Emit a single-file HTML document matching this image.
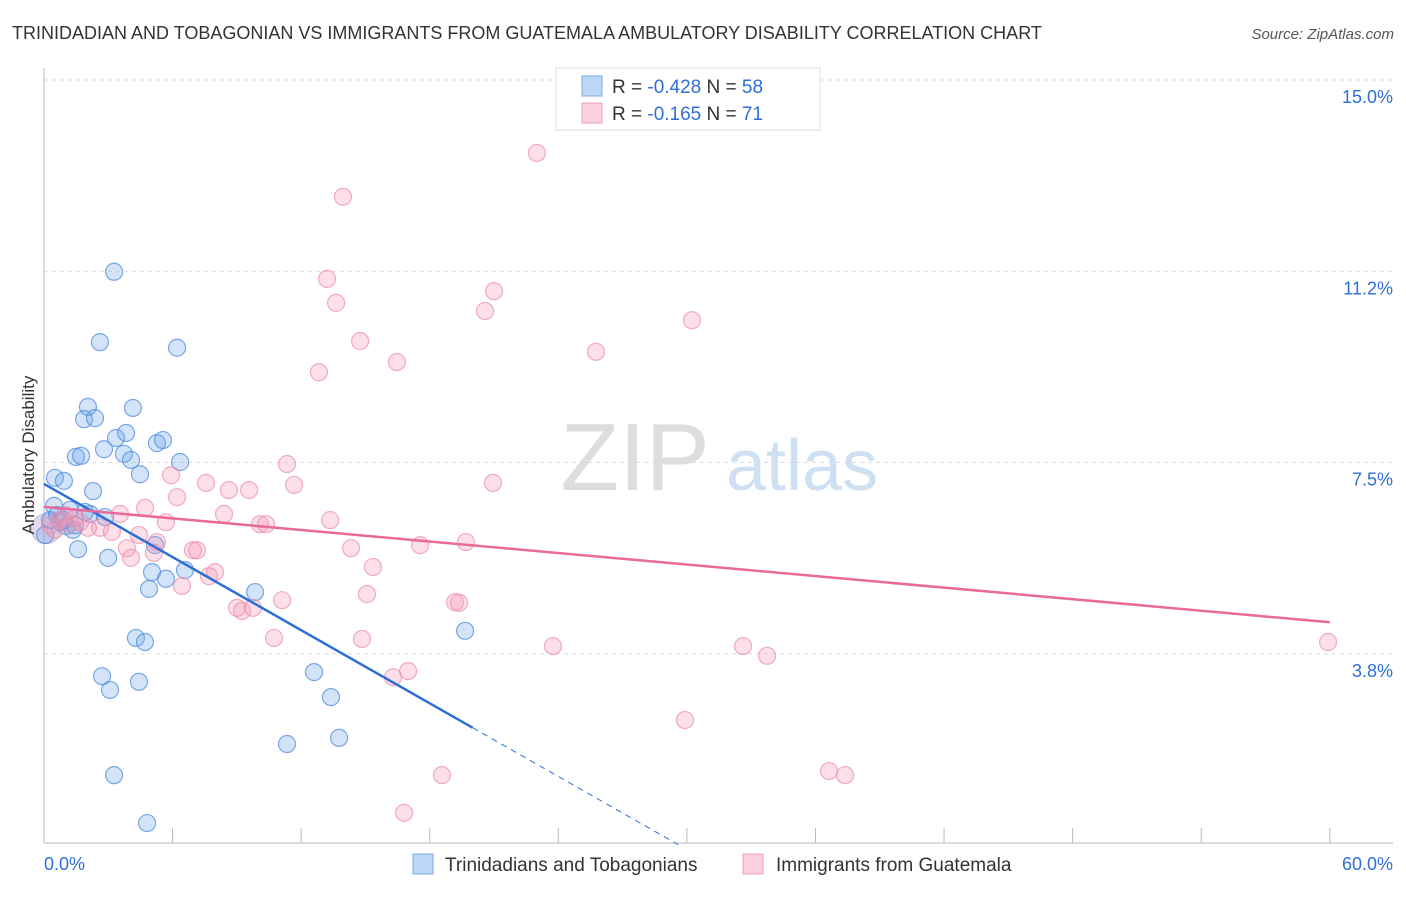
<!DOCTYPE html>
<html><head><meta charset="utf-8"><style>
body{margin:0;background:#fff;font-family:"Liberation Sans",sans-serif;}
svg text{font-family:"Liberation Sans",sans-serif;}
</style></head><body>
<svg id="chart" width="1406" height="892" xmlns="http://www.w3.org/2000/svg">
<text x="12" y="39" font-size="18" fill="#333">TRINIDADIAN AND TOBAGONIAN VS IMMIGRANTS FROM GUATEMALA AMBULATORY DISABILITY CORRELATION CHART</text>
<text x="1394" y="39" font-size="15" fill="#555" font-style="italic" text-anchor="end">Source: ZipAtlas.com</text>
<g>
<text x="635" y="490" font-size="96" fill="#ddd" font-family="Liberation Serif" text-anchor="middle">ZIP</text>
<text x="802" y="490" font-size="72" fill="#cfe0f3" text-anchor="middle">atlas</text>
</g>
<g id="grid"></g>
<g id="axes"></g>
<g id="points"></g>
<g id="trends"></g>
<text transform="translate(34,455) rotate(-90)" font-size="17" fill="#333" text-anchor="middle">Ambulatory Disability</text>
<g>
<rect x="556" y="68" width="264" height="62" fill="#fff" stroke="#ddd"/>
<rect x="582" y="76" width="20" height="20" fill="#bcd6f5" stroke="#7aaae6"/>
<rect x="582" y="103" width="20" height="20" fill="#fbd0dd" stroke="#eea0b8"/>
<text x="612" y="93" font-size="19" fill="#333">R = <tspan fill="#2e6fd6">-0.428</tspan>   N = <tspan fill="#2e6fd6">58</tspan></text>
<text x="612" y="120" font-size="19" fill="#333">R =  <tspan fill="#2e6fd6">-0.165</tspan>   N =  <tspan fill="#2e6fd6">71</tspan></text>
</g>
<g>
<rect x="413" y="854" width="20" height="20" fill="#bcd6f5" stroke="#7aaae6"/>
<text x="445" y="871" font-size="19" fill="#333">Trinidadians and Tobagonians</text>
<rect x="743" y="854" width="20" height="20" fill="#fbd0dd" stroke="#eea0b8"/>
<text x="776" y="871" font-size="19" fill="#333">Immigrants from Guatemala</text>
</g>
</svg>
<script>
const yTicks=[3.75,7.5,11.25,15];
const yTickLabels=["3.8%","7.5%","11.2%","15.0%"];
const xTickLabels=["0.0%","60.0%"];
const blueX=[3.27,2.61,6.21,2.05,4.15,1.87,2.38,3.36,3.83,5.27,5.55,2.80,1.49,1.73,3.73,4.06,6.35,4.48,0.51,0.93,2.29,0.47,1.21,2.15,2.85,0.28,0.75,1.03,1.35,0.05,1.45,1.59,2.99,5.18,5.04,6.58,5.69,4.90,9.85,4.29,4.71,19.65,2.71,12.60,3.08,4.43,13.39,11.34,13.77,3.27,4.81,0.61,1.91,0.93];
const blueY=[11.24,9.86,9.75,8.59,8.57,8.35,8.37,7.98,8.08,7.88,7.94,7.76,7.61,7.63,7.67,7.55,7.51,7.27,7.20,7.14,6.94,6.65,6.57,6.49,6.43,6.37,6.33,6.25,6.18,6.08,6.27,5.80,5.63,5.88,5.35,5.39,5.22,5.02,4.96,4.06,3.98,4.20,3.31,3.39,3.04,3.20,2.90,1.98,2.10,1.37,0.43,6.47,6.53,6.37];
const pinkX=[23.0,13.95,13.21,13.63,21.0,20.58,30.24,14.75,25.76,16.47,12.83,11.34,5.93,7.56,11.67,20.95,8.63,9.57,6.21,4.71,8.40,3.55,13.35,5.69,10.08,10.36,4.43,3.17,2.05,2.61,17.55,14.33,19.69,3.87,5.27,5.13,6.95,7.14,4.06,15.35,7.98,7.70,6.44,15.07,11.11,19.18,19.37,9.01,9.24,9.75,10.73,14.84,23.75,32.62,33.74,16.99,16.29,59.92,29.91,18.57,36.63,37.38,16.80,0.75,1.21,1.45,0.28,0.98,0.51,1.68];
const pinkY=[13.57,12.71,11.10,10.63,10.86,10.47,10.29,9.88,9.67,9.47,9.27,7.47,7.25,7.10,7.06,7.10,6.96,6.96,6.82,6.61,6.49,6.49,6.37,6.33,6.29,6.29,6.08,6.14,6.22,6.22,5.88,5.82,5.94,5.82,5.94,5.73,5.78,5.78,5.63,5.45,5.35,5.27,5.08,4.92,4.80,4.76,4.75,4.65,4.59,4.65,4.06,4.04,3.90,3.90,3.71,3.41,3.29,3.98,2.45,1.37,1.45,1.37,0.63,6.37,6.29,6.41,6.27,6.47,6.18,6.33];
const blueTrend=[7.08,-0.239];
const pinkTrend=[6.63,-0.0377];
const NS="http://www.w3.org/2000/svg";
const sx=v=>44+v*21.43, sy=v=>845-v*51.0;
function mk(tag,attrs,parent){const e=document.createElementNS(NS,tag);for(const k in attrs)e.setAttribute(k,attrs[k]);document.getElementById(parent).appendChild(e);return e;}
yTicks.forEach((t,i)=>{
 const g=mk('line',{x1:44,x2:1393,y1:sy(t),y2:sy(t),stroke:'#ddd','stroke-dasharray':'4,4'},'grid');
 
 
 const l=mk('text',{x:1393,y:sy(t)+23,'font-size':18,fill:'#2e6fd6','text-anchor':'end'},'axes');
 l.textContent=yTickLabels[i];
 
 
});
const ax=mk('line',{x1:44,x2:1393,y1:843,y2:843,stroke:'#bbb'},'axes');


const ay=mk('line',{x1:44,x2:44,y1:68,y2:843,stroke:'#bbb'},'axes');


for(let i=0;i<=10;i++){const t=mk('line',{x1:sx(i*6),x2:sx(i*6),y1:828,y2:843,stroke:'#bbb'},'axes');
 
 }
[[0,'start',44],[60,'end',1393]].forEach((d,i)=>{const t=mk('text',{x:d[2],y:870,'font-size':18,fill:'#2e6fd6','text-anchor':d[1]},'axes');t.textContent=xTickLabels[i];
 
 });
const big=mk('circle',{cx:sx(0.1),cy:sy(6.2),r:15,fill:'rgba(170,150,210,0.35)',stroke:'rgba(160,140,200,0.5)'},'points');


blueX.forEach((x,i)=>{const c=mk('circle',{cx:sx(x),cy:sy(blueY[i]),r:8.5,fill:'rgba(110,165,235,0.3)',stroke:'rgba(80,140,220,0.75)','stroke-width':1.2},'points');
 
 });
pinkX.forEach((x,i)=>{const c=mk('circle',{cx:sx(x),cy:sy(pinkY[i]),r:8.5,fill:'rgba(245,150,180,0.3)',stroke:'rgba(235,140,170,0.7)','stroke-width':1.2},'points');
 
 });
const bl=mk('line',{x1:sx(0),y1:sy(blueTrend[0]),x2:sx(20),y2:sy(blueTrend[0]+blueTrend[1]*20),stroke:'#2e6fd6','stroke-width':2.5},'trends');


const xEnd=-blueTrend[0]/blueTrend[1];
const bd=mk('line',{x1:sx(20),y1:sy(blueTrend[0]+blueTrend[1]*20),x2:sx(xEnd),y2:sy(0),stroke:'#2e6fd6','stroke-width':1,'stroke-dasharray':'6,5'},'trends');


const pl=mk('line',{x1:sx(0),y1:sy(pinkTrend[0]),x2:sx(60),y2:sy(pinkTrend[0]+pinkTrend[1]*60),stroke:'#e8699a','stroke-width':2.5},'trends');


</script>
</body></html>
